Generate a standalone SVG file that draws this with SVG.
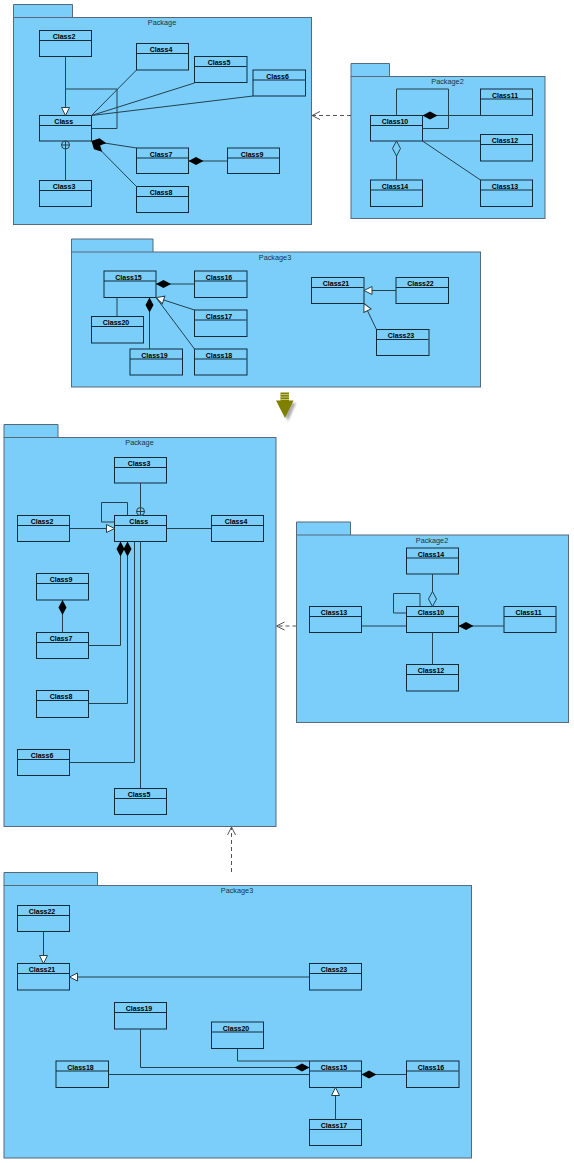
<svg xmlns="http://www.w3.org/2000/svg" width="574" height="1163" viewBox="0 0 574 1163">
<style>
.pk{fill:#7ACEF9;stroke:#56697a;stroke-width:1}
.pl{font:7.3px "Liberation Sans",Arial,sans-serif;fill:#1c3442;text-anchor:middle}
.c{fill:#7ACEF9;stroke:#0f2a3a;stroke-width:1}
.d{stroke:#0f2a3a;stroke-width:1;fill:none}
.t{font:bold 7px "Liberation Sans",Arial,sans-serif;fill:#000;text-anchor:middle}
.l{fill:none;stroke:#24414f;stroke-width:1}
.dash{fill:none;stroke:#555;stroke-width:1;stroke-dasharray:4 3}
.comp{marker-start:url(#diamondFilled)}
.aggr{marker-start:url(#diamondOpen)}
.gen{marker-end:url(#triangle)}
.nest{marker-start:url(#nest)}
.dep{marker-end:url(#open)}
</style>
<defs>
<marker id="diamondFilled" markerUnits="userSpaceOnUse" orient="auto" refX="0" refY="5" markerWidth="16" markerHeight="10" overflow="visible"><path d="M0 5L7.5 1L15 5L7.5 9Z" fill="#000"/></marker>
<marker id="diamondOpen" markerUnits="userSpaceOnUse" orient="auto" refX="0" refY="5" markerWidth="16" markerHeight="10" overflow="visible"><path d="M0 5L7.5 1L15 5L7.5 9Z" fill="#7ACEF9" stroke="#24414f"/></marker>
<marker id="triangle" markerUnits="userSpaceOnUse" orient="auto" refX="8" refY="5" markerWidth="9" markerHeight="10" overflow="visible"><path d="M0 1L8 5L0 9Z" fill="#fff" stroke="#24414f"/></marker>
<marker id="nest" markerUnits="userSpaceOnUse" orient="auto" refX="0" refY="5" markerWidth="9" markerHeight="10" overflow="visible"><circle cx="4" cy="5" r="4" fill="#7ACEF9" stroke="#24414f"/><path d="M0 5H8M4 1V9" stroke="#24414f" fill="none"/></marker>
<marker id="open" markerUnits="userSpaceOnUse" orient="auto" refX="8" refY="5" markerWidth="9" markerHeight="10" overflow="visible"><path d="M0 1L8 5L0 9" fill="none" stroke="#555"/></marker>
<filter id="soft" x="-30%" y="-30%" width="160%" height="160%"><feGaussianBlur stdDeviation="1.2"/></filter>
</defs>

<g id="top-package"><path class="pk" d="M13.5 17.5V4.5H72.500V17.5"/><rect class="pk" x="13.5" y="17.5" width="298" height="207"/><text class="pl" x="162" y="25">Package</text></g>
<g id="top-package2"><path class="pk" d="M351 76.5V63.5H389.5V76.5"/><rect class="pk" x="351" y="76.5" width="194" height="142"/><text class="pl" x="447.5" y="84">Package2</text></g>
<g id="top-package3"><path class="pk" d="M71.5 252V239H153V252"/><rect class="pk" x="71.5" y="252" width="409" height="135"/><text class="pl" x="275" y="259.500">Package3</text></g>
<g id="bottom-package"><path class="pk" d="M4 437.500V424.500H58V437.500"/><rect class="pk" x="4" y="437.500" width="272" height="389"/><text class="pl" x="139.500" y="445">Package</text></g>
<g id="bottom-package2"><path class="pk" d="M296.500 535V522H350.500V535"/><rect class="pk" x="296.500" y="535" width="272" height="187.500"/><text class="pl" x="432" y="542.500">Package2</text></g>
<g id="bottom-package3"><path class="pk" d="M4 885.500V872.500H97.500V885.500"/><rect class="pk" x="4" y="885.500" width="467.500" height="272.500"/><text class="pl" x="237" y="893">Package3</text></g>

<g id="a-class2" transform="translate(39.500 30.500)"><rect class="c" width="52" height="26"/><path class="d" d="M0 10H52"/><text class="t" x="24.500" y="8.500">Class2</text></g>
<g id="a-class4" transform="translate(136.500 43.500)"><rect class="c" width="52" height="26.500"/><path class="d" d="M0 10H52"/><text class="t" x="24.500" y="8.500">Class4</text></g>
<g id="a-class5" transform="translate(194.500 56.500)"><rect class="c" width="52.500" height="26"/><path class="d" d="M0 10H52"/><text class="t" x="24.500" y="8.500">Class5</text></g>
<g id="a-class6" transform="translate(253 70)"><rect class="c" width="52.500" height="26"/><path class="d" d="M0 10H52"/><text class="t" x="24.500" y="8.500">Class6</text></g>
<g id="a-class" transform="translate(39.500 115.500)"><rect class="c" width="52" height="25.500"/><path class="d" d="M0 10H52"/><text class="t" x="24.200" y="8.500">Class</text></g>
<g id="a-class3" transform="translate(39.500 180.500)"><rect class="c" width="52" height="26"/><path class="d" d="M0 10H52"/><text class="t" x="24.500" y="8.500">Class3</text></g>
<g id="a-class7" transform="translate(136.500 148)"><rect class="c" width="52" height="25.500"/><path class="d" d="M0 10H52"/><text class="t" x="24.500" y="8.500">Class7</text></g>
<g id="a-class9" transform="translate(227.500 148)"><rect class="c" width="52" height="25.500"/><path class="d" d="M0 10H52"/><text class="t" x="24.500" y="8.500">Class9</text></g>
<g id="a-class8" transform="translate(136.500 186.500)"><rect class="c" width="52" height="26"/><path class="d" d="M0 10H52"/><text class="t" x="24.500" y="8.500">Class8</text></g>

<g id="a-class10" transform="translate(370.500 115.500)"><rect class="c" width="52" height="25.500"/><path class="d" d="M0 10H52"/><text class="t" x="24.500" y="8.500">Class10</text></g>
<g id="a-class11" transform="translate(480.500 89)"><rect class="c" width="52" height="26.500"/><path class="d" d="M0 10H52"/><text class="t" x="24.500" y="8.500">Class11</text></g>
<g id="a-class12" transform="translate(480.500 134.500)"><rect class="c" width="52" height="26.500"/><path class="d" d="M0 10H52"/><text class="t" x="24.500" y="8.500">Class12</text></g>
<g id="a-class13" transform="translate(480.500 180)"><rect class="c" width="52" height="26.500"/><path class="d" d="M0 10H52"/><text class="t" x="24.500" y="8.500">Class13</text></g>
<g id="a-class14" transform="translate(370.500 180)"><rect class="c" width="52" height="26.500"/><path class="d" d="M0 10H52"/><text class="t" x="24.500" y="8.500">Class14</text></g>

<g id="a-class15" transform="translate(104 271)"><rect class="c" width="52" height="26.500"/><path class="d" d="M0 10H52"/><text class="t" x="24.500" y="8.500">Class15</text></g>
<g id="a-class16" transform="translate(194.500 271)"><rect class="c" width="52.500" height="26.500"/><path class="d" d="M0 10H52"/><text class="t" x="24.500" y="8.500">Class16</text></g>
<g id="a-class17" transform="translate(194.500 310)"><rect class="c" width="52.500" height="26.500"/><path class="d" d="M0 10H52"/><text class="t" x="24.500" y="8.500">Class17</text></g>
<g id="a-class18" transform="translate(194.500 349)"><rect class="c" width="52.500" height="26"/><path class="d" d="M0 10H52"/><text class="t" x="24.500" y="8.500">Class18</text></g>
<g id="a-class19" transform="translate(130 349)"><rect class="c" width="52.500" height="26"/><path class="d" d="M0 10H52"/><text class="t" x="24.500" y="8.500">Class19</text></g>
<g id="a-class20" transform="translate(91.500 316.500)"><rect class="c" width="52" height="26.500"/><path class="d" d="M0 10H52"/><text class="t" x="24.500" y="8.500">Class20</text></g>
<g id="a-class21" transform="translate(311.500 277.500)"><rect class="c" width="52.500" height="26"/><path class="d" d="M0 10H52"/><text class="t" x="24.500" y="8.500">Class21</text></g>
<g id="a-class22" transform="translate(396 277.500)"><rect class="c" width="52.500" height="26"/><path class="d" d="M0 10H52"/><text class="t" x="24.500" y="8.500">Class22</text></g>
<g id="a-class23" transform="translate(376.500 329.500)"><rect class="c" width="52.500" height="26"/><path class="d" d="M0 10H52"/><text class="t" x="24.500" y="8.500">Class23</text></g>

<g id="b-class3" transform="translate(114.500 457.500)"><rect class="c" width="52" height="25.500"/><path class="d" d="M0 10H52"/><text class="t" x="24.500" y="8.500">Class3</text></g>
<g id="b-class" transform="translate(114.500 515.500)"><rect class="c" width="52" height="26"/><path class="d" d="M0 10H52"/><text class="t" x="24.200" y="8.500">Class</text></g>
<g id="b-class2" transform="translate(17.500 515.500)"><rect class="c" width="52" height="26"/><path class="d" d="M0 10H52"/><text class="t" x="24.500" y="8.500">Class2</text></g>
<g id="b-class4" transform="translate(211.500 515.500)"><rect class="c" width="52" height="26"/><path class="d" d="M0 10H52"/><text class="t" x="24.500" y="8.500">Class4</text></g>
<g id="b-class9" transform="translate(36.500 573.500)"><rect class="c" width="52" height="26.500"/><path class="d" d="M0 10H52"/><text class="t" x="24.500" y="8.500">Class9</text></g>
<g id="b-class7" transform="translate(36.500 632.500)"><rect class="c" width="52" height="26"/><path class="d" d="M0 10H52"/><text class="t" x="24.500" y="8.500">Class7</text></g>
<g id="b-class8" transform="translate(36.500 690.500)"><rect class="c" width="52" height="27"/><path class="d" d="M0 10H52"/><text class="t" x="24.500" y="8.500">Class8</text></g>
<g id="b-class6" transform="translate(17.500 749.500)"><rect class="c" width="52" height="26"/><path class="d" d="M0 10H52"/><text class="t" x="24.500" y="8.500">Class6</text></g>
<g id="b-class5" transform="translate(114.500 788.500)"><rect class="c" width="52" height="26"/><path class="d" d="M0 10H52"/><text class="t" x="24.500" y="8.500">Class5</text></g>

<g id="b-class14" transform="translate(406.500 548)"><rect class="c" width="52" height="26"/><path class="d" d="M0 10H52"/><text class="t" x="24.500" y="8.500">Class14</text></g>
<g id="b-class10" transform="translate(406.500 606.500)"><rect class="c" width="52" height="26"/><path class="d" d="M0 10H52"/><text class="t" x="24.500" y="8.500">Class10</text></g>
<g id="b-class13" transform="translate(309.500 606.500)"><rect class="c" width="52" height="26"/><path class="d" d="M0 10H52"/><text class="t" x="24.500" y="8.500">Class13</text></g>
<g id="b-class11" transform="translate(504 606.500)"><rect class="c" width="52" height="26"/><path class="d" d="M0 10H52"/><text class="t" x="24.500" y="8.500">Class11</text></g>
<g id="b-class12" transform="translate(406.500 664.500)"><rect class="c" width="52" height="26.500"/><path class="d" d="M0 10H52"/><text class="t" x="24.500" y="8.500">Class12</text></g>

<g id="b-class22" transform="translate(17.500 905.500)"><rect class="c" width="52" height="26"/><path class="d" d="M0 10H52"/><text class="t" x="24.500" y="8.500">Class22</text></g>
<g id="b-class21" transform="translate(17.500 963.500)"><rect class="c" width="52" height="26.500"/><path class="d" d="M0 10H52"/><text class="t" x="24.500" y="8.500">Class21</text></g>
<g id="b-class23" transform="translate(309.500 963.500)"><rect class="c" width="52" height="26.500"/><path class="d" d="M0 10H52"/><text class="t" x="24.500" y="8.500">Class23</text></g>
<g id="b-class19" transform="translate(114.500 1002.500)"><rect class="c" width="52" height="26.500"/><path class="d" d="M0 10H52"/><text class="t" x="24.500" y="8.500">Class19</text></g>
<g id="b-class20" transform="translate(211.500 1022)"><rect class="c" width="52" height="26.500"/><path class="d" d="M0 10H52"/><text class="t" x="24.500" y="8.500">Class20</text></g>
<g id="b-class18" transform="translate(56 1061)"><rect class="c" width="52.500" height="26.500"/><path class="d" d="M0 10H52"/><text class="t" x="24.500" y="8.500">Class18</text></g>
<g id="b-class15" transform="translate(309.500 1061)"><rect class="c" width="52" height="26.500"/><path class="d" d="M0 10H52"/><text class="t" x="24.500" y="8.500">Class15</text></g>
<g id="b-class16" transform="translate(406.500 1061)"><rect class="c" width="52.500" height="26.500"/><path class="d" d="M0 10H52"/><text class="t" x="24.500" y="8.500">Class16</text></g>
<g id="b-class17" transform="translate(309.500 1119.500)"><rect class="c" width="52" height="26"/><path class="d" d="M0 10H52"/><text class="t" x="24.500" y="8.500">Class17</text></g>

<g id="connectors">
<path class="l gen" d="M65.500 56.500V115.500"/>
<path class="l" d="M65.500 89H117V128.500H91.500"/>
<path class="l nest" d="M65.500 141V180.500"/>
<path class="l" d="M91.500 115.500L136.500 70"/>
<path class="l" d="M91.500 115.500L194.500 83"/>
<path class="l" d="M91.500 115.500L253 96"/>
<path class="l comp" d="M91.500 141L136.500 148"/>
<path class="l comp" d="M91.500 141L136.500 186.500"/>
<path class="l comp" d="M188.500 161H227.500"/>
<path class="dash dep" d="M351 115.500H312"/>

<path class="l" d="M396.500 115.500V89H448.500V128.500H422.500"/>
<path class="l comp" d="M422.500 115.500H532.500"/>
<path class="l" d="M422.500 141H480.500"/>
<path class="l" d="M422.500 141L480.500 180"/>
<path class="l aggr" d="M396.500 141V180"/>

<path class="l comp" d="M156 284H194.500"/>
<path class="l gen" d="M194.500 310L156 297.500"/>
<path class="l" d="M156 297.500L194.500 349"/>
<path class="l" d="M117 297.500V316.500"/>
<path class="l comp" d="M149.500 297.500V349"/>
<path class="l gen" d="M396 290.500H364"/>
<path class="l gen" d="M376.500 329.500L364 303.500"/>

<path class="l nest" d="M140.500 515.500V483"/>
<path class="l" d="M127.500 515.500V502.500H101.500V522H114.500"/>
<path class="l gen" d="M69.500 528.500H114.500"/>
<path class="l" d="M166.500 528.500H211.500"/>
<path class="l comp" d="M120.500 541.500V645.500H88.500"/>
<path class="l comp" d="M127.500 541.500V703.500H88.500"/>
<path class="l" d="M134.500 541.500V762.500H69.500"/>
<path class="l" d="M140.500 541.500V788.500"/>
<path class="l comp" d="M62.500 600V632.500"/>
<path class="dash dep" d="M296.500 626H276.500"/>
<path class="dash dep" d="M231.500 872V827"/>

<path class="l" d="M420 606.500V593.500H393.500V613H406.500"/>
<path class="l aggr" d="M432.500 606.500V574"/>
<path class="l" d="M361.500 626H406.500"/>
<path class="l comp" d="M458.500 626H504"/>
<path class="l" d="M432.500 632.500V664.500"/>

<path class="l gen" d="M43.500 931.500V963.500"/>
<path class="l gen" d="M309.500 977H69.500"/>
<path class="l comp" d="M309.500 1067.500H140.500V1029"/>
<path class="l" d="M237.500 1048.500V1061H309.500"/>
<path class="l" d="M108.500 1074.500H309.500"/>
<path class="l comp" d="M361.500 1074.500H406.500"/>
<path class="l gen" d="M335.500 1119.500V1087.500"/>
</g>

<g id="transform-arrow">
<path d="M279 403H296L288 421Z" fill="#777" opacity=".6" filter="url(#soft)"/>
<path d="M276 400.500H280.500V392.500H289V400.500H293.500L285 418Z" fill="#808000"/>
<path d="M280.500 394.500H289M280.500 397H289M280.500 399.500H289" stroke="#d6d6a0" stroke-width=".8"/>
</g>
</svg>
